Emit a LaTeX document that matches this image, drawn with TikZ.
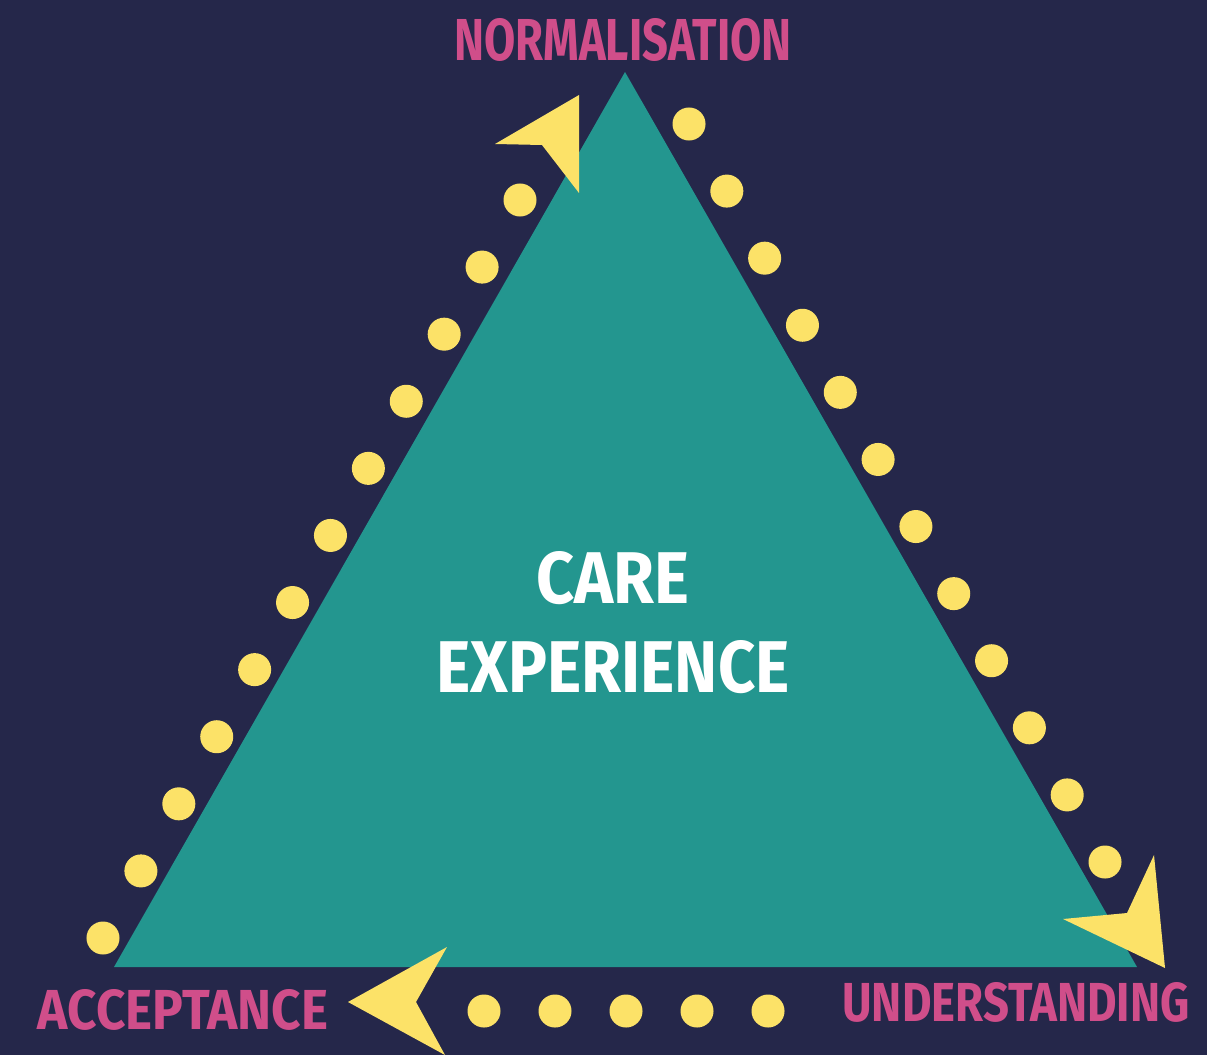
\documentclass[tikz,border=0pt]{standalone}
\usepackage{fontspec}
\usepackage{graphicx}
\setmainfont{Fira Sans}
\usetikzlibrary{calc}
\definecolor{CEnavy}{HTML}{25274A}
\definecolor{CEteal}{HTML}{23968F}
\definecolor{CEyellow}{HTML}{FCE268}
\definecolor{CEpink}{HTML}{D04E8A}
\newcommand{\cefit}[3]{\resizebox{#1}{#2}{\bfseries #3}}
\tikzset{cedot/.style={circle,fill=CEyellow,inner sep=0pt,minimum size=0.33cm},
 celabel/.style={inner sep=0pt,text=CEpink},
 cetitle/.style={inner sep=0pt,text=white},
 cearrow/.style={fill=CEyellow}}

\begin{document}
\begin{tikzpicture}[x=0.01cm,y=-0.01cm]
\fill[CEnavy] (0,0) rectangle (1207,1055);
% triangle
\coordinate (apex) at (625,72);
\coordinate (left) at (114,967);
\coordinate (right) at (1137,967);
\fill[CEteal] (apex)--(left)--(right)--cycle;
% dotted sides
\coordinate (L0) at (520,200);
\coordinate (L11) at (103,938);
\coordinate (R0) at (689,124);
\coordinate (R11) at (1105,862);
\coordinate (B0) at (484,1011);
\coordinate (B4) at (768,1011);
\foreach \i in {0,...,11}{
 \node[cedot] (ldot\i) at ($(L0)!\i/11!(L11)$) {};
 \node[cedot] (rdot\i) at ($(R0)!\i/11!(R11)$) {};
}
\foreach \i in {0,...,4}
 \node[cedot] (bdot\i) at ($(B0)!\i/4!(B4)$) {};
% arrowheads
\fill[cearrow] (579,95)--(495,144)--(542,145)--(579,193)--cycle;
\fill[cearrow] (1165,968)--(1154,855)--(1127,913)--(1063,919)--cycle;
\fill[cearrow] (348,1002)--(447,947)--(416,1002)--(445,1055)--cycle;
% labels
\node[celabel] (norm) at (623,40) {\cefit{3.37cm}{0.42cm}{NORMALISATION}};
\node[celabel] (accept) at (183,1010) {\cefit{2.90cm}{0.40cm}{ACCEPTANCE}};
\node[celabel] (under) at (1016,1002) {\cefit{3.47cm}{0.39cm}{UNDERSTANDING}};
\node[cetitle] (care) at (613,578) {\cefit{1.53cm}{0.52cm}{CARE}};
\node[cetitle] (exp) at (613,667) {\cefit{3.53cm}{0.52cm}{EXPERIENCE}};
\end{tikzpicture}
\end{document}
